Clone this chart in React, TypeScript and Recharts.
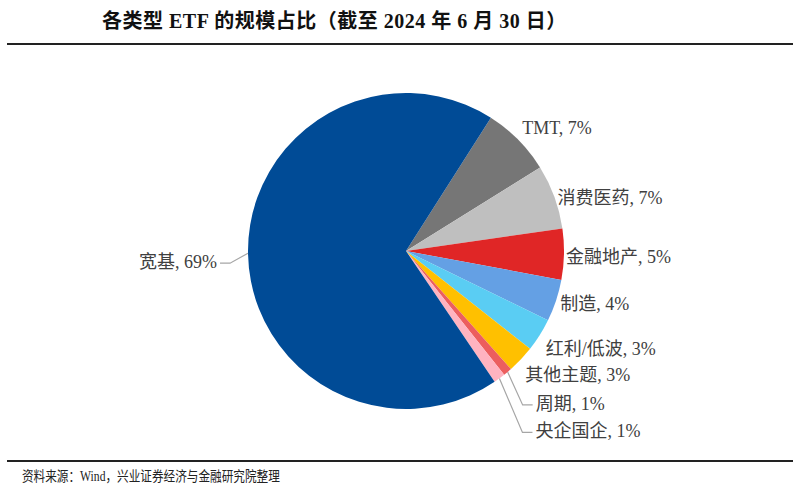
import React from 'react';
import { PieChart, Pie, Cell } from 'recharts';

const categories = ['TMT', '消费医药', '金融地产', '制造', '红利/低波', '其他主题', '周期', '央企国企', '宽基'];
const shares = [7.1, 6.6, 5.2, 4.3, 3.4, 2.8, 0.9, 1.2, 68.5];
const COLORS = ['#767676', '#BFBFBF', '#E02626', '#64A0E4', '#5ACDF3', '#FFC000', '#EC5E5E', '#FFB3C0', '#004B96'];

const data = categories.map((name, i) => ({ name, value: shares[i] }));

const FONT = '"Times New Roman", "Liberation Serif", "Noto Sans CJK SC", serif';
const RAD = Math.PI / 180;

// label nudges relative to a point just outside the slice
const NUDGE: Record<number, [number, number]> = {
    0: [-6, -2],
    1: [-10, 6],
    2: [-12, 2],
    3: [-9, -1],
    4: [-6, 6],
    5: [-6, 6],
};

const renderLabel = (props: any) => {
    const { cx, cy, midAngle, outerRadius, index, name, value } = props;
    const text = `${name}, ${Math.round(value)}%`;
    const cos = Math.cos(-midAngle * RAD);
    const sin = Math.sin(-midAngle * RAD);
    const ex = cx + outerRadius * cos;
    const ey = cy + outerRadius * sin;

    if (NUDGE[index]) {
        const [dx, dy] = NUDGE[index];
        const x = cx + (outerRadius + 14) * cos + dx;
        const y = cy + (outerRadius + 14) * sin + dy;
        return (
            <text key={index} x={x} y={y} fill="#404040" fontSize={18} fontFamily={FONT} textAnchor="start" dominantBaseline="central">
                {text}
            </text>
        );
    }

    // leader lines
    let pts: [number, number][];
    let tx: number;
    let anchor: 'start' | 'end';
    if (index === 8) {
        pts = [[ex, ey], [ex - 18, ey + 10], [ex - 28, ey + 10]];
        tx = ex - 31;
        anchor = 'end';
    } else {
        const drop = index === 6 ? 33 : 54;
        const bx = ex + (index === 6 ? 15 : 23);
        pts = [[ex, ey], [bx, ey + drop], [bx + 10, ey + drop]];
        tx = bx + 13;
        anchor = 'start';
    }
    const ty = pts[2][1];
    return (
        <g key={index}>
            <polyline points={pts.map((p) => p.join(',')).join(' ')} fill="none" stroke="#A6A6A6" strokeWidth={1.2} />
            <text x={tx} y={ty - 1} fill="#404040" fontSize={18} fontFamily={FONT} textAnchor={anchor} dominantBaseline="central">
                {text}
            </text>
        </g>
    );
};

export default function App() {
    return (
        <div style={{ position: 'relative', width: 793, height: 490, background: '#fff', fontFamily: FONT }}>
            <style>{'body{margin:0}'}</style>
            <div style={{ position: 'absolute', left: 102, top: 5, fontSize: 20, letterSpacing: 0.5, fontWeight: 'bold', color: '#111', whiteSpace: 'nowrap' }}>
                各类型 ETF 的规模占比（截至 2024 年 6 月 30 日）
            </div>
            <div style={{ position: 'absolute', left: 7, right: 0, top: 43, height: 2, background: '#222' }} />
            <PieChart width={793} height={490} margin={{ top: 0, right: 0, bottom: 0, left: 0 }} style={{ position: 'absolute', left: 0, top: 0 }}>
                <Pie
                    data={data}
                    dataKey="value"
                    nameKey="name"
                    cx={406}
                    cy={251}
                    outerRadius={158}
                    startAngle={57.5}
                    endAngle={-302.5}
                    stroke="none"
                    label={renderLabel}
                    labelLine={false}
                    isAnimationActive={false}
                >
                    {data.map((_, i) => (
                        <Cell key={i} fill={COLORS[i]} />
                    ))}
                </Pie>
            </PieChart>
            <div style={{ position: 'absolute', left: 7, right: 0, top: 460, height: 2, background: '#222' }} />
            <div style={{ position: 'absolute', left: 22, top: 465, fontSize: 14, color: '#222', whiteSpace: 'nowrap', transform: 'scaleX(0.83)', transformOrigin: 'left top' }}>
                资料来源：Wind，兴业证券经济与金融研究院整理
            </div>
        </div>
    );
}
